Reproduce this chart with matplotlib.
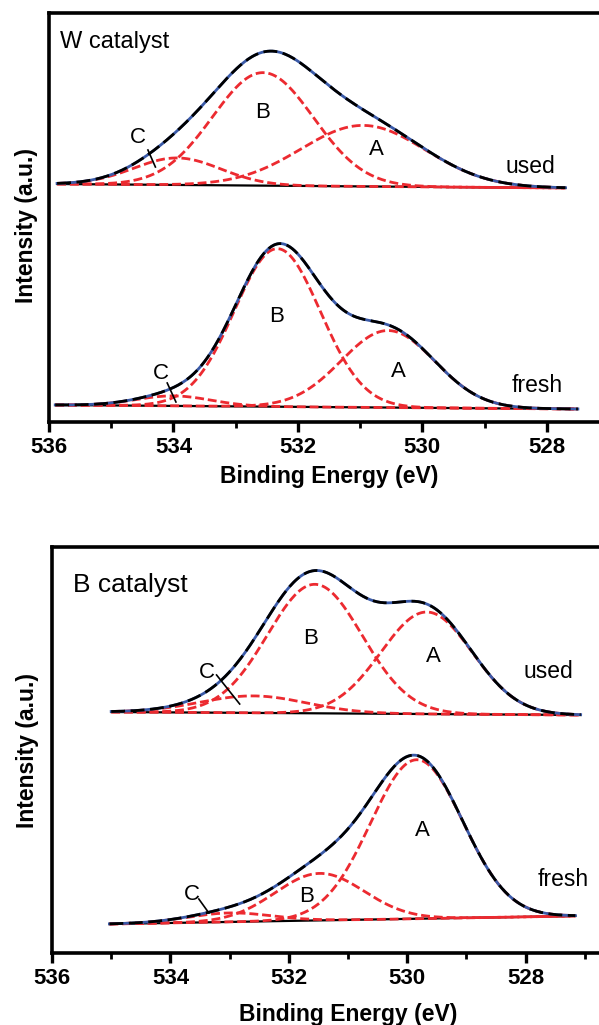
import numpy as np
import matplotlib
matplotlib.use("Agg")
import matplotlib.pyplot as plt

plt.rcParams["font.family"] = ["Liberation Sans", "DejaVu Sans"]

# ==========================================================
# Data (heights above the baseline)
# ==========================================================

# W catalyst
w_used_range = [535.87, 527.70]
w_used_base = [238, 234]
w_used_center = [530.95, 532.56, 533.94]   # A, B, C
w_used_height = [61, 113, 27]
w_used_sigma = [1.00, 0.81, 0.70]

w_fresh_range = [535.90, 527.50]
w_fresh_base = [17, 13]
w_fresh_center = [530.55, 532.33, 534.00]
w_fresh_height = [77, 158, 10]
w_fresh_sigma = [0.75, 0.69, 0.60]

# B catalyst
b_used_range = [535.00, 527.07]
b_used_base = [241, 238]
b_used_center = [529.67, 531.56, 532.60]
b_used_height = [102, 129, 17]
b_used_sigma = [0.77, 0.80, 0.90]

b_fresh_range = [535.03, 527.16]
b_fresh_base = [29, 37]
b_fresh_center = [529.84, 531.48, 533.00]
b_fresh_height = [159, 47, 9]
b_fresh_sigma = [0.78, 0.75, 0.70]

major_ticks = [536, 534, 532, 530, 528]
minor_ticks = [535, 533, 531, 529, 527]

RED = "#ec2a30"
BLUE = "#3a5aa8"


def draw_spectrum(ax, e_range, base, centers, heights, sigmas):
    e = np.linspace(e_range[0], e_range[1], 400)
    bg = np.interp(e, [e_range[1], e_range[0]], [base[1], base[0]])
    comps = [h * np.exp(-(e - c) ** 2 / (2 * s ** 2))
             for c, h, s in zip(centers, heights, sigmas)]
    total = bg + np.sum(comps, axis=0)

    ax.plot(e, bg, color="black", lw=1.6, zorder=2)
    for comp in comps:
        ax.plot(e, bg + comp, color=RED, lw=2.0,
                dashes=(3.2, 1.4), zorder=3)
    ax.plot(e, total, color=BLUE, lw=2.0, zorder=4)
    ax.plot(e, total, color="black", lw=2.0,
            dashes=(5, 2.0), zorder=5)


def style_axes(ax, xlim, ylim):
    ax.set_xlim(*xlim)
    ax.set_ylim(*ylim)
    ax.set_xticks(major_ticks)
    ax.set_xticks(minor_ticks, minor=True)
    ax.set_yticks([])
    for side in ["left", "bottom", "top"]:
        ax.spines[side].set_linewidth(2.6)
    ax.spines["right"].set_visible(False)
    ax.tick_params(axis="x", which="major", direction="out",
                   length=7, width=2.4, pad=4, labelsize=16)
    ax.tick_params(axis="x", which="minor", direction="out",
                   length=4, width=2.0)
    for lab in ax.get_xticklabels():
        lab.set_fontweight("bold")
    ax.set_xlabel("Binding Energy (eV)", fontsize=16.5, fontweight="bold")
    ax.set_ylabel("Intensity (a.u.)", fontsize=16.5, fontweight="bold")


fig = plt.figure(figsize=(5.99, 10.25), dpi=100)

# ==========================================================
# W catalyst panel
# ==========================================================

ax1 = fig.add_axes([49 / 599, 1 - 422 / 1025, 560 / 599, 409 / 1025])

draw_spectrum(ax1, w_used_range, w_used_base,
              w_used_center, w_used_height, w_used_sigma)
draw_spectrum(ax1, w_fresh_range, w_fresh_base,
              w_fresh_center, w_fresh_height, w_fresh_sigma)
style_axes(ax1, (536, 527), (0, 409))
ax1.xaxis.set_label_coords(0.5, -0.105)
ax1.yaxis.set_label_coords(-0.019, 0.48)

ax1.text(535.82, 380, "W catalyst", fontsize=17, va="center")
ax1.text(534.57, 284, "C", fontsize=16, ha="center", va="center")
ax1.plot([534.41, 534.29], [272, 255], color="black", lw=1.2, zorder=6)
ax1.text(532.56, 309, "B", fontsize=16, ha="center", va="center")
ax1.text(530.74, 272, "A", fontsize=16, ha="center", va="center")
ax1.text(528.26, 255, "used", fontsize=16.5, ha="center", va="center")

ax1.text(534.20, 48, "C", fontsize=16, ha="center", va="center")
ax1.plot([534.10, 533.96], [39, 20], color="black", lw=1.2, zorder=6)
ax1.text(532.35, 105, "B", fontsize=16, ha="center", va="center")
ax1.text(530.38, 50, "A", fontsize=16, ha="center", va="center")
ax1.text(528.16, 36, "fresh", fontsize=16.5, ha="center", va="center")

# ==========================================================
# B catalyst panel
# ==========================================================

ax2 = fig.add_axes([52 / 599, 1 - 953 / 1025, 592 / 599, 406 / 1025])

draw_spectrum(ax2, b_used_range, b_used_base,
              b_used_center, b_used_height, b_used_sigma)
draw_spectrum(ax2, b_fresh_range, b_fresh_base,
              b_fresh_center, b_fresh_height, b_fresh_sigma)
style_axes(ax2, (536, 526), (0, 406))
ax2.xaxis.set_label_coords(0.5, -0.122)
ax2.yaxis.set_label_coords(-0.022, 0.5)

ax2.text(535.65, 368, "B catalyst", fontsize=19, va="center")
ax2.text(533.39, 281, "C", fontsize=16, ha="center", va="center")
ax2.plot([533.22, 532.83], [278, 249], color="black", lw=1.2, zorder=6)
ax2.text(531.63, 315, "B", fontsize=16, ha="center", va="center")
ax2.text(529.55, 297, "A", fontsize=16, ha="center", va="center")
ax2.text(527.62, 281, "used", fontsize=16.5, ha="center", va="center")

ax2.text(533.64, 58, "C", fontsize=16, ha="center", va="center")
ax2.plot([533.52, 533.35], [54, 40], color="black", lw=1.2, zorder=6)
ax2.text(531.70, 56, "B", fontsize=16, ha="center", va="center")
ax2.text(529.74, 123, "A", fontsize=16, ha="center", va="center")
ax2.text(527.36, 73, "fresh", fontsize=16.5, ha="center", va="center")

fig.savefig("out.png", dpi=100)
